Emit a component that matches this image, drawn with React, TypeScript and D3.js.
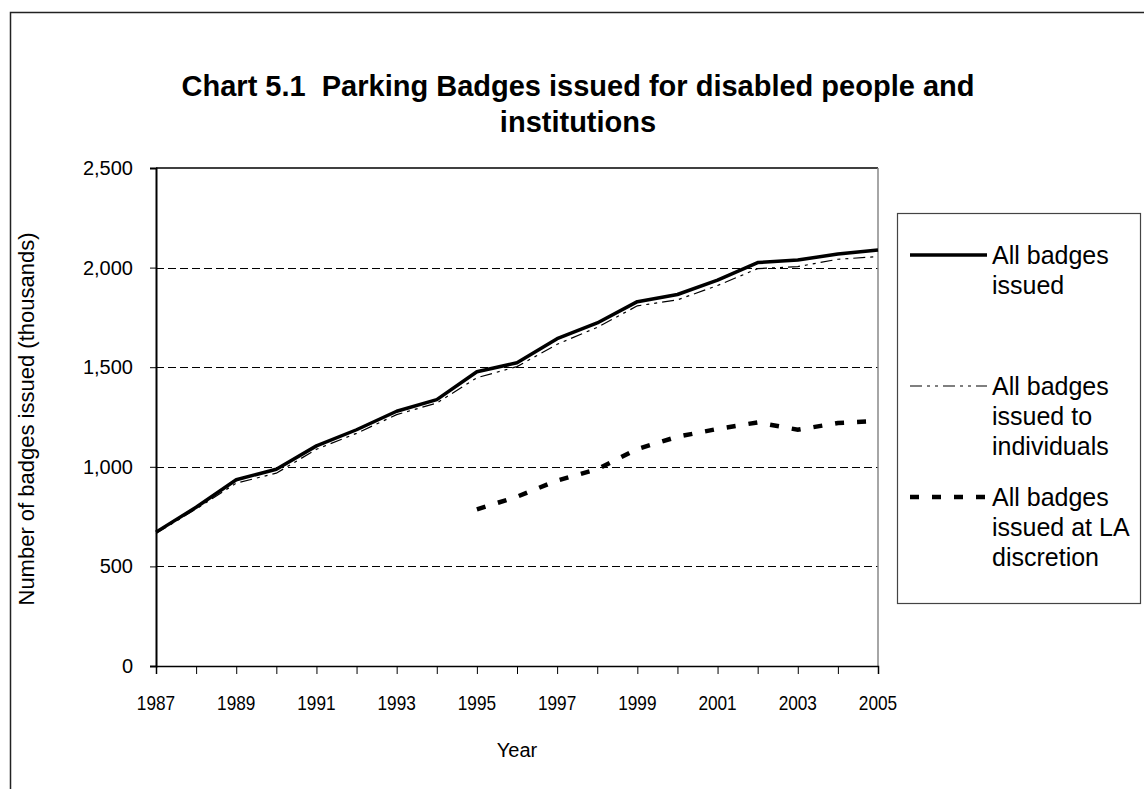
import { useEffect, useRef } from "react";
import * as d3 from "d3";

const years = [1987, 1988, 1989, 1990, 1991, 1992, 1993, 1994, 1995, 1996, 1997, 1998, 1999, 2000, 2001, 2002, 2003, 2004, 2005];
const allBadges = [672, 797, 935, 988, 1105, 1186, 1279, 1337, 1477, 1522, 1643, 1722, 1829, 1865, 1937, 2025, 2038, 2068, 2088];
const individuals = [665, 788, 918, 968, 1088, 1168, 1262, 1320, 1447, 1503, 1615, 1700, 1808, 1838, 1910, 1995, 2005, 2042, 2055];
const laDiscretion: (number | null)[] = [null, null, null, null, null, null, null, null, 786, 850, 931, 988, 1089, 1151, 1190, 1223, 1186, 1220, 1230];
const yTicks = [0, 500, 1000, 1500, 2000, 2500];
const xLabelYears = [1987, 1989, 1991, 1993, 1995, 1997, 1999, 2001, 2003, 2005];

const legendItems = [
  { lines: ["All badges", "issued"], dash: "none", width: 3.5 },
  { lines: ["All badges", "issued to", "individuals"], dash: "12,5,3,5,3,5", width: 1.2 },
  { lines: ["All badges", "issued at LA", "discretion"], dash: "9,13", width: 4.5 },
];

const FONT = "'Liberation Sans', Arial, sans-serif";

const App = () => {
  const svgRef = useRef<SVGSVGElement>(null);

  useEffect(() => {
    if (!svgRef.current) return;
    d3.select(svgRef.current).selectAll("*").remove();

    const width = 1144;
    const height = 789;
    const svg = d3.select(svgRef.current)
      .attr("width", width)
      .attr("height", height)
      .style("font-family", FONT);

    svg.append("rect").attr("width", width).attr("height", height).attr("fill", "#fff");

    // outer chart frame (runs off the right and bottom)
    svg.append("rect")
      .attr("x", 10.5).attr("y", 12.5)
      .attr("width", width + 20).attr("height", height + 20)
      .attr("fill", "none").attr("stroke", "#222").attr("stroke-width", 1.5);

    const left = 156, right = 878, top = 168, bottom = 666;
    const x = d3.scaleLinear().domain([1987, 2005]).range([left, right]);
    const y = d3.scaleLinear().domain([0, 2500]).range([bottom, top]);

    // title
    const title = svg.append("text")
      .attr("text-anchor", "middle")
      .style("font-size", "29px")
      .style("font-weight", "bold")
      .style("white-space", "pre")
      .attr("fill", "#000");
    title.append("tspan").attr("x", 578).attr("y", 96).text("Chart 5.1  Parking Badges issued for disabled people and");
    title.append("tspan").attr("x", 578).attr("y", 132).text("institutions");

    // gridlines
    svg.append("g")
      .selectAll("line")
      .data(yTicks.filter(d => d > 0 && d < 2500))
      .join("line")
      .attr("x1", left).attr("x2", right)
      .attr("y1", d => Math.round(y(d)) + 0.5).attr("y2", d => Math.round(y(d)) + 0.5)
      .attr("stroke", "#000").attr("stroke-width", 1)
      .attr("stroke-dasharray", "8,4");

    // plot area border top/right
    svg.append("line").attr("x1", left).attr("x2", right).attr("y1", top).attr("y2", top)
      .attr("stroke", "#000").attr("stroke-width", 1.5);
    svg.append("line").attr("x1", right).attr("x2", right).attr("y1", top).attr("y2", bottom)
      .attr("stroke", "#888").attr("stroke-width", 1.5);

    // y axis
    const yAxis = d3.axisLeft(y)
      .tickValues(yTicks)
      .tickSize(6)
      .tickPadding(17)
      .tickFormat(d => d3.format(",")(d as number));
    const gy = svg.append("g").attr("transform", `translate(${left},0)`).call(yAxis);
    gy.select(".domain").attr("stroke", "#000").attr("stroke-width", 2);
    gy.selectAll(".tick line").attr("stroke", "#000");
    gy.selectAll(".tick text")
      .style("font-family", FONT).style("font-size", "20px").attr("fill", "#000");

    // x axis
    const xAxis = d3.axisBottom(x)
      .tickValues(years)
      .tickSize(8)
      .tickFormat(() => "");
    const gx = svg.append("g").attr("transform", `translate(0,${bottom})`).call(xAxis);
    gx.select(".domain").attr("stroke", "#000").attr("stroke-width", 1.5);
    gx.selectAll(".tick line").attr("stroke", "#000");

    svg.append("g")
      .selectAll("text")
      .data(xLabelYears)
      .join("text")
      .attr("transform", d => `translate(${x(d)},710) scale(0.82,1)`)
      .attr("text-anchor", "middle")
      .style("font-size", "21px")
      .attr("fill", "#000")
      .text(d => String(d));

    // axis titles
    svg.append("text")
      .attr("x", (left + right) / 2).attr("y", 757)
      .attr("text-anchor", "middle")
      .style("font-size", "20px")
      .text("Year");

    svg.append("text")
      .attr("transform", `translate(34,${(top + bottom) / 2 + 2}) rotate(-90)`)
      .attr("text-anchor", "middle")
      .style("font-size", "22px")
      .text("Number of badges issued (thousands)");

    // series
    const line = d3.line<number | null>()
      .defined(d => d !== null)
      .x((_, i) => x(years[i]))
      .y(d => y(d as number));

    svg.append("path").datum(individuals)
      .attr("d", line).attr("fill", "none")
      .attr("stroke", "#000").attr("stroke-width", legendItems[1].width)
      .attr("stroke-dasharray", legendItems[1].dash);

    svg.append("path").datum(laDiscretion)
      .attr("d", line).attr("fill", "none")
      .attr("stroke", "#000").attr("stroke-width", legendItems[2].width)
      .attr("stroke-dasharray", legendItems[2].dash);

    svg.append("path").datum(allBadges)
      .attr("d", line).attr("fill", "none")
      .attr("stroke", "#000").attr("stroke-width", legendItems[0].width)
      .attr("stroke-linejoin", "round");

    // legend
    const lg = svg.append("g");
    lg.append("rect")
      .attr("x", 897.5).attr("y", 213.5).attr("width", 243).attr("height", 390)
      .attr("fill", "#fff").attr("stroke", "#444").attr("stroke-width", 1.2);

    const entryY = [255, 386, 497];
    legendItems.forEach((item, i) => {
      const cy = entryY[i];
      lg.append("line")
        .attr("x1", 910).attr("x2", 987).attr("y1", cy).attr("y2", cy)
        .attr("stroke", "#000").attr("stroke-width", item.width)
        .attr("stroke-dasharray", item.dash);
      const t = lg.append("text").style("font-size", "25px").attr("fill", "#000");
      item.lines.forEach((s, j) => {
        t.append("tspan").attr("x", 992).attr("y", cy + 9 + j * 30).text(s);
      });
    });
  }, []);

  return (
    <div style={{ position: "absolute", left: 0, top: 0 }}>
      <svg ref={svgRef}></svg>
    </div>
  );
};

export default App;
